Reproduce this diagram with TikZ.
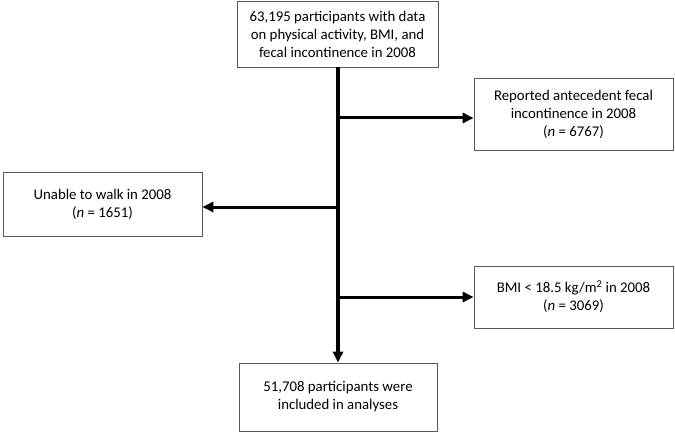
\documentclass[tikz,border=0pt]{standalone}
\usepackage{fontspec}
\setmainfont{Carlito}
\usepackage{tikz}
\usetikzlibrary{
  arrows.meta,
  positioning
}

\begin{document}
\begin{tikzpicture}[x=1pt,y=1pt,
      flowbox/.style={
         rectangle,
         draw=black!65,
         line width=0.7pt,
         align=center,
         inner sep=2pt,
         font=\fontsize{14.8}{18}\selectfont
      },
      spine/.style={line width=3.6pt},
      tip/.style={-{Triangle[length=11pt,width=10pt]},line width=3pt}
    ]
    \useasboundingbox (0,0) rectangle (675,-433);
    \node (start) [flowbox, minimum width=201pt, minimum height=66pt] at (337.5,-34)
       {63,195 participants with data\\on physical activity, BMI, and\\fecal incontinence in 2008};
    \node (excl1) [flowbox, minimum width=199pt, minimum height=72pt] at (573.5,-114)
       {Reported antecedent fecal\\incontinence in 2008\\(\textit{n} = 6767)};
    \node (excl2) [flowbox, minimum width=199pt, minimum height=64pt] at (102.5,-204)
       {Unable to walk in 2008\\(\textit{n} = 1651)};
    \node (excl3) [flowbox, minimum width=199pt, minimum height=62pt] at (573.5,-297)
       {BMI < 18.5 kg/m\textsuperscript{2} in 2008\\(\textit{n} = 3069)};
    \node (final) [flowbox, minimum width=198pt, minimum height=68pt] at (338,-397)
       {51,708 participants were\\included in analyses};
    % branch points on the spine
    \coordinate (b1) at (338,-118);
    \coordinate (b2) at (338,-207);
    \coordinate (b3) at (338,-297);
    \draw[spine] (start.south -| b1) -- (338,-352);
    \draw[tip] (338,-350) -- (final.north -| b1);
    \draw[tip] (b1) -- (b1 -| excl1.west);
    \draw[tip] (b2) -- (b2 -| excl2.east);
    \draw[tip] (b3) -- (b3 -| excl3.west);
\end{tikzpicture}
\end{document}
